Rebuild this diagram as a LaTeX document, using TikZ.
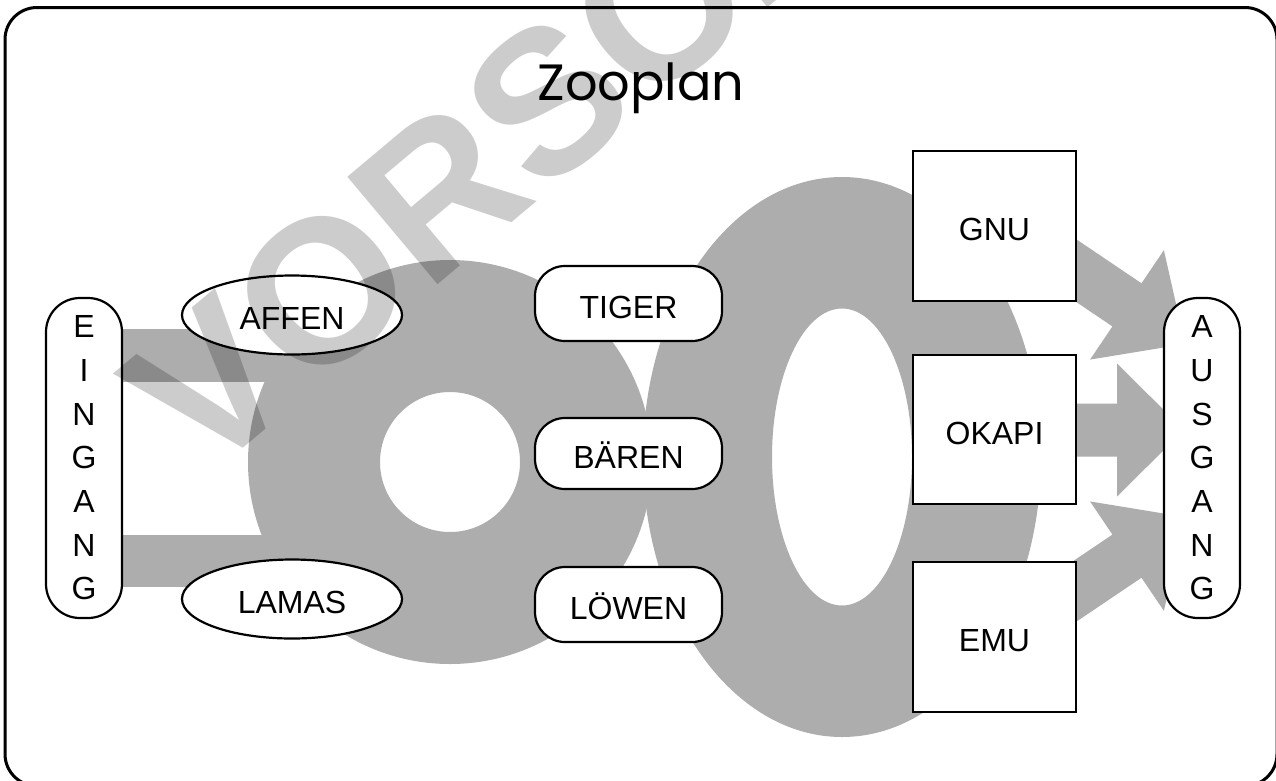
\documentclass[tikz,border=0pt]{standalone}
\usepackage{fontspec}
\setmainfont{Liberation Sans}
\newfontfamily\titlefont{Poppins}
\usetikzlibrary{shapes.geometric}
\definecolor{ringgray}{RGB}{173,173,173}
\begin{document}
\begin{tikzpicture}[x=1pt,y=-1pt,
  lbl/.style={font=\fontsize{32}{38}\selectfont, inner sep=0pt, text height=29pt, text depth=0pt},
  pill/.style={lbl, draw=black, line width=2.2pt, fill=white, rounded corners=30pt, minimum width=187pt, minimum height=75pt},
  oval/.style={lbl, draw=black, line width=2.2pt, fill=white, ellipse, minimum width=220pt, minimum height=79pt},
  pen/.style={lbl, draw=black, line width=2.6pt, fill=white, minimum width=163pt, minimum height=150pt},
  gate/.style={draw=black, line width=2.2pt, fill=white, rounded corners=34pt, minimum width=76pt, minimum height=320pt, align=center, font=\fontsize{32}{43.7}\selectfont, inner sep=0pt},
  walk/.style={fill=ringgray},
  frame/.style={draw=black, line width=3pt, rounded corners=32pt},
  mark text/.style={font=\bfseries\fontsize{204}{210}\selectfont, text=black, text opacity=0.2, inner sep=0pt}
]
\useasboundingbox (0,0) rectangle (1276,780);
\clip (0,0) rectangle (1276,780);
\fill[white] (0,0) rectangle (1276,780);
% frame
\draw[frame] (5,7.5) rectangle (1277,786);
% title
\node[font=\titlefont\fontsize{51}{60}\selectfont, inner sep=0pt, anchor=base] (title) at (641,100) {Zooplan};
% grey walkways
\fill[walk] (100,329) rectangle (300,382);
\fill[walk] (100,535) rectangle (300,587);
\fill[walk, even odd rule] (450,462) circle[radius=202] (450,462) circle[radius=70];
\fill[walk, even odd rule] (842,457) ellipse[x radius=199, y radius=280] (842,457) ellipse[x radius=70, y radius=148.5];
% block arrows to the exit
\begin{scope}[shift={(1185,344)}, rotate=-34]
  \fill[walk] (0,0) -- (-70,-66) -- (-70,-26) -- (-190,-26) -- (-190,26) -- (-70,26) -- (-70,66) -- cycle;
\end{scope}
\begin{scope}[shift={(1184,430)}]
  \fill[walk] (0,0) -- (-67,-66.5) -- (-67,-26.5) -- (-190,-26.5) -- (-190,26.5) -- (-67,26.5) -- (-67,66.5) -- cycle;
\end{scope}
\begin{scope}[shift={(1185,517)}, rotate=34]
  \fill[walk] (0,0) -- (-70,-66) -- (-70,-26) -- (-190,-26) -- (-190,26) -- (-70,26) -- (-70,66) -- cycle;
\end{scope}
% nodes
\node[gate] (eingang) at (84,458) {E\\I\\N\\G\\A\\N\\G};
\node[gate] (ausgang) at (1202,458) {A\\U\\S\\G\\A\\N\\G};
\node[oval] (affen) at (292,315) {AFFEN};
\node[oval] (lamas) at (292,599) {LAMAS};
\node[pill] (tiger) at (628.5,303.5) {TIGER};
\node[pill, minimum height=71pt] (baeren) at (628.5,453.5) {BÄREN};
\node[pill] (loewen) at (628.5,604.5) {LÖWEN};
\node[pen] (gnu) at (994.5,226) {GNU};
\node[pen, minimum height=149pt] (okapi) at (994.5,429.5) {OKAPI};
\node[pen] (emu) at (994.5,637) {EMU};
% watermark
\node[mark text, rotate=40, anchor=base west] (wm) at (202,483) {VORSCHAU};
\end{tikzpicture}
\end{document}
